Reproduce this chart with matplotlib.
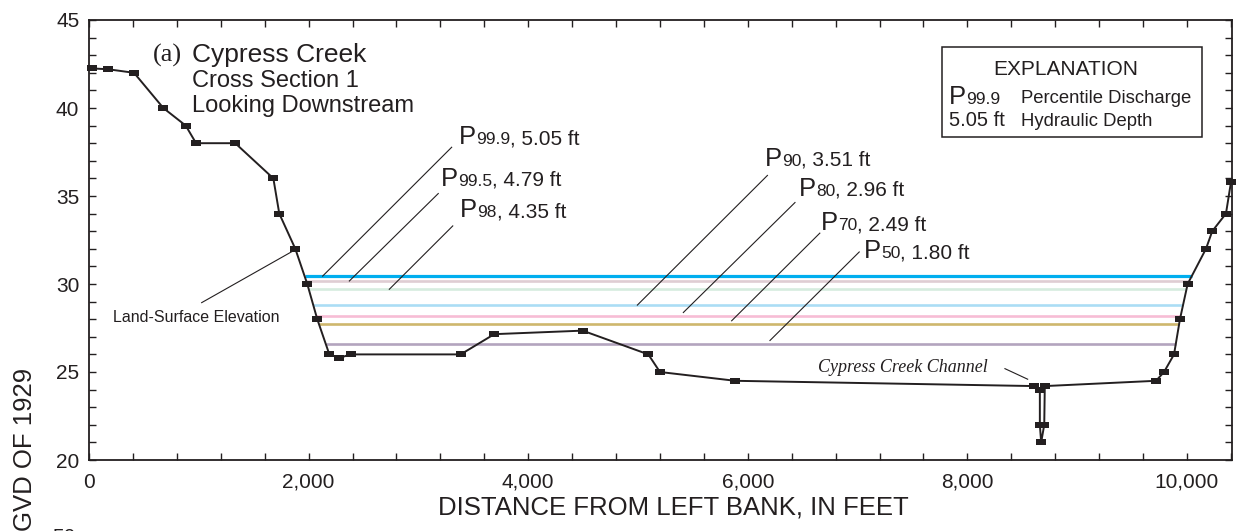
import numpy as np
import matplotlib
matplotlib.use("Agg")
import matplotlib.pyplot as plt
from matplotlib.offsetbox import TextArea, HPacker, AnnotationBbox
from matplotlib.patches import Rectangle

plt.rcParams['font.family'] = ['Liberation Sans', 'DejaVu Sans']

# ---------------- data ----------------
# Land-surface profile (distance from left bank, ft ; elevation, ft NGVD 1929)
dist_ft = [25, 176, 410, 677, 881, 975, 1332, 1679, 1733, 1879, 1988, 2079, 2189,
           2280, 2383, 3385, 3691, 4496, 5094, 5200, 5886, 8609, 8660, 8660, 8672,
           8700, 8705, 9718, 9791, 9882, 9936, 10006, 10173, 10230, 10355, 10401]
elev_ft = [42.25, 42.2, 42.0, 40.0, 39.0, 38.0, 38.0, 36.0, 34.0, 32.0, 30.0, 28.0, 26.0,
           25.8, 26.0, 26.0, 27.15, 27.35, 26.0, 25.0, 24.5, 24.2, 24.0, 22.0, 21.0,
           22.0, 24.2, 24.5, 25.0, 26.0, 28.0, 30.0, 32.0, 33.0, 34.0, 35.8]

# Water surfaces for percentile discharges
percentiles = ["99.9", "99.5", "98", "90", "80", "70", "50"]
hyd_depth = ["5.05", "4.79", "4.35", "3.51", "2.96", "2.49", "1.80"]
water_elev = [30.45, 30.17, 29.70, 28.80, 28.20, 27.75, 26.60]

x_ticks = [0, 2000, 4000, 6000, 8000, 10000]
x_ticklabels = ["0", "2,000", "4,000", "6,000", "8,000", "10,000"]
y_ticks = [20, 25, 30, 35, 40, 45]

# ---------------- styles / positions ----------------
ink = '#231f20'
water_colors = ['#00AEEF', '#DFCDD3', '#D6ECDF', '#ABDDF5', '#F7BDD5', '#CEB76D', '#B3A4BE']
water_lw = [2.3, 1.9, 1.9, 1.9, 1.9, 1.9, 1.9]
label_pos = [(3366, 38.33), (3206, 35.99), (3379, 34.2), (6154, 37.11),
             (6464, 35.42), (6667, 33.45), (7056, 31.86)]
leader_top = [(3303, 37.77), (3181, 35.14), (3313, 33.3), (6179, 36.17),
              (6430, 34.63), (6656, 32.89), (7015, 31.82)]
leader_bot = [(2128, 30.45), (2371, 30.17), (2735, 29.70), (4994, 28.80),
              (5413, 28.38), (5853, 27.91), (6202, 26.79)]

W, H = 1236, 531
fig = plt.figure(figsize=(W / 100, H / 100), dpi=100)
ax = fig.add_axes([89 / W, 1 - 460 / H, (1232 - 89) / W, 440 / H])
ax.set_xlim(0, 10410)
ax.set_ylim(20, 45)


def bank_crossings(x, y, level):
    x = np.asarray(x, float)
    y = np.asarray(y, float)
    i = int(np.argmax(y < level))
    xl = x[i - 1] + (y[i - 1] - level) / (y[i - 1] - y[i]) * (x[i] - x[i - 1])
    j = len(y) - 1 - int(np.argmax(y[::-1] < level))
    xr = x[j] + (level - y[j]) / (y[j + 1] - y[j]) * (x[j + 1] - x[j])
    return xl, xr


# water-surface lines
for lev, c, lw in zip(water_elev, water_colors, water_lw):
    xl, xr = bank_crossings(dist_ft, elev_ft, lev)
    ax.plot([xl, xr], [lev, lev], color=c, lw=lw, solid_capstyle='butt', zorder=2)

# land-surface profile
rect_marker = [(-1.5, -1), (1.5, -1), (1.5, 1), (-1.5, 1), (-1.5, -1)]
ax.plot(dist_ft, elev_ft, color=ink, lw=1.4, marker=rect_marker, ms=7.2,
        mfc=ink, mec=ink, mew=0, zorder=4, clip_on=False)

# percentile labels with leaders
for k in range(len(percentiles)):
    children = [TextArea("P", textprops=dict(fontsize=18.5, color=ink)),
                TextArea(percentiles[k], textprops=dict(fontsize=12.5, color=ink)),
                TextArea(f", {hyd_depth[k]} ft", textprops=dict(fontsize=15, color=ink))]
    box = HPacker(children=children, align="baseline", pad=0, sep=0)
    ab = AnnotationBbox(box, label_pos[k], xycoords='data', box_alignment=(0, 0.5),
                        frameon=False, pad=0, zorder=5)
    ax.add_artist(ab)
    ax.plot([leader_top[k][0], leader_bot[k][0]], [leader_top[k][1], leader_bot[k][1]],
            color=ink, lw=0.8, zorder=3)

# Land-surface elevation label
ax.text(222, 28.1, "Land-Surface Elevation", fontsize=11.5, color=ink, va='center', ha='left')
ax.plot([1026, 1879], [28.94, 31.95], color=ink, lw=0.8, zorder=3)

# Channel label
ax.text(6642, 25.28, "Cypress Creek Channel", fontsize=13, color=ink, va='center', ha='left',
        family=['Liberation Serif', 'DejaVu Serif'], style='italic')
ax.plot([8342, 8549], [25.19, 24.59], color=ink, lw=0.8, zorder=3)

# Title block
ax.text(0.0557, 0.9205, "(a)", transform=ax.transAxes, fontsize=19, color=ink,
        family=['Liberation Serif', 'DejaVu Serif'], va='center', ha='left')
ax.text(0.0899, 0.9205, "Cypress Creek", transform=ax.transAxes, fontsize=19, color=ink,
        va='center', ha='left')
ax.text(0.0899, 0.8614, "Cross Section 1", transform=ax.transAxes, fontsize=17, color=ink,
        va='center', ha='left')
ax.text(0.0899, 0.8045, "Looking Downstream", transform=ax.transAxes, fontsize=17, color=ink,
        va='center', ha='left')

# Explanation box
ax.add_patch(Rectangle((0.7465, 0.7334), 0.974 - 0.7465, 0.938 - 0.7334, transform=ax.transAxes,
                       fill=False, edgecolor=ink, lw=1.1, zorder=6))
ax.text(0.8545, 0.888, "EXPLANATION", transform=ax.transAxes, fontsize=15, color=ink,
        ha='center', va='center')
ebox = HPacker(children=[TextArea("P", textprops=dict(fontsize=18.5, color=ink)),
                         TextArea("99.9", textprops=dict(fontsize=12.5, color=ink))],
               align="baseline", pad=0, sep=0)
ax.add_artist(AnnotationBbox(ebox, (0.7527, 0.8260), xycoords='axes fraction',
                             box_alignment=(0, 0.5), frameon=False, pad=0))
ax.text(0.8151, 0.8107, "Percentile Discharge", transform=ax.transAxes, fontsize=13.3,
        color=ink, ha='left', va='baseline')
ax.text(0.7527, 0.760, "5.05 ft", transform=ax.transAxes, fontsize=14.5,
        color=ink, ha='left', va='baseline')
ax.text(0.8151, 0.760, "Hydraulic Depth", transform=ax.transAxes, fontsize=13.3,
        color=ink, ha='left', va='baseline')

# Axes styling
ax.set_xticks(x_ticks)
ax.set_xticklabels(x_ticklabels)
ax.set_xticks(np.arange(0, 10401, 400), minor=True)
ax.set_yticks(y_ticks)
ax.set_yticks(np.arange(20, 46, 1), minor=True)
ax.tick_params(which='both', direction='in', top=True, right=True, length=5, width=1.0,
               color=ink, labelsize=15, labelcolor=ink)
ax.tick_params(axis='x', which='major', pad=9)
ax.tick_params(axis='y', which='major', pad=7)
for s in ax.spines.values():
    s.set_color(ink)
    s.set_linewidth(1.3)

ax.set_xlabel("DISTANCE FROM LEFT BANK, IN FEET", fontsize=18.5, color=ink, labelpad=4)
ax.xaxis.set_label_coords((673 - 89) / 1143, -(507 - 460) / 440)
ax.xaxis.label.set_va('center')

# truncated y-axis label and next-panel tick (figure is a crop of a larger plate)
fig.text(25 / W, 1 - 368 / H, "ELEVATION, IN FEET ABOVE NGVD OF 1929", rotation=90,
         ha='center', va='top', fontsize=18.5, color=ink)
fig.text(64 / W, 1 - 528 / H, "50", ha='center', va='top', fontsize=15, color=ink)

fig.savefig("out.png", dpi=100)
